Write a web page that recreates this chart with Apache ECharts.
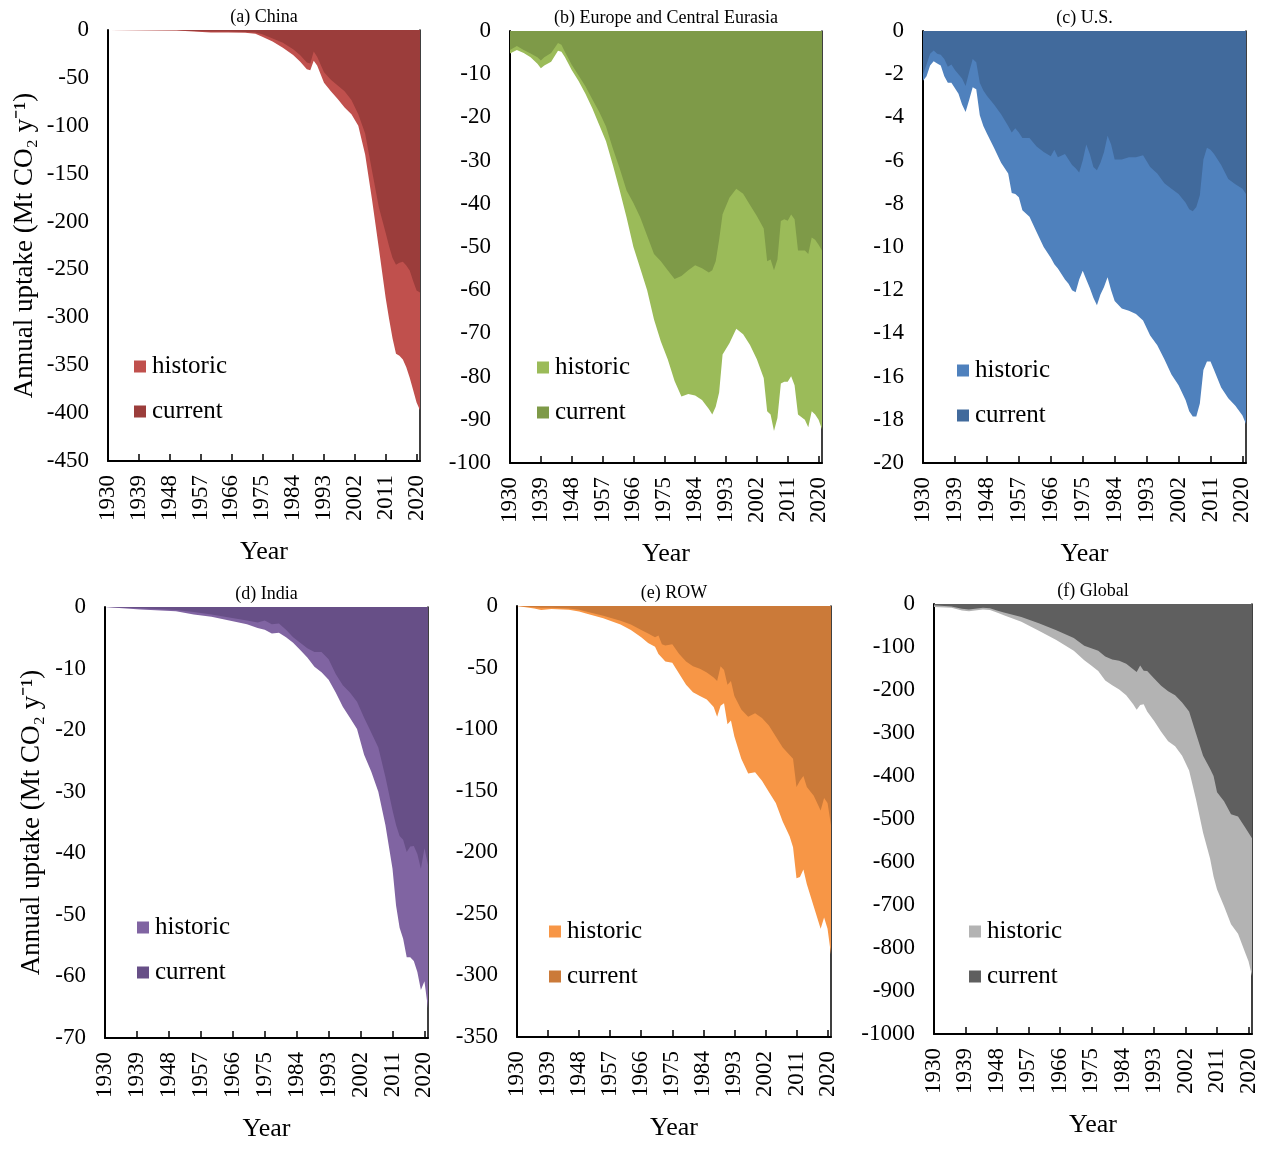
<!DOCTYPE html>
<html>
<head>
<meta charset="utf-8">
<script src="https://cdn.jsdelivr.net/npm/echarts@6/dist/echarts.min.js"></script>
<style>
html,body{margin:0;padding:0;background:#fff;}
#chart{width:1268px;height:1152px;}
</style>
</head>
<body>
<div id="chart"></div>
<script>
// ---- DATA ----
const yearTicks = [1930,1939,1948,1957,1966,1975,1984,1993,2002,2011,2020];

const cnYears    = [1930,1950,1955,1960,1965,1970,1973,1975,1978,1981,1984,1986,1988,1989,1990,1991,1993,1995,1997,1999,2001,2003,2005,2007,2009,2011,2012,2013,2014,2015,2016,2017,2018,2019,2020,2021];
const cnHistoric = [0,-0.5,-1.5,-2.5,-2.5,-3,-4,-7,-12,-18.5,-26,-33,-41,-42,-32,-37,-55,-64,-72,-81,-88,-100,-130,-177,-228,-280,-302,-322,-338,-340,-344,-352,-363,-376,-389,-397];
const cnCurrent  = [0,-0.3,-1,-1.5,-1.5,-2,-2.5,-4.5,-9,-13.3,-20,-26,-34,-35,-22.5,-28,-44,-52,-58,-64,-73,-88,-108,-147,-185,-212,-226,-238,-245,-243,-242,-246,-251,-262,-272,-274];

const euYears    = [1930,1932,1934,1936,1938,1939,1940,1942,1944,1945,1946,1948,1950,1952,1954,1956,1958,1960,1962,1964,1966,1968,1970,1972,1974,1976,1978,1980,1982,1984,1986,1988,1989,1990,1991,1992,1994,1996,1998,2000,2002,2004,2005,2006,2007,2008,2009,2010,2011,2012,2013,2014,2016,2017,2018,2019,2020,2021];
const euHistoric = [-5.2,-4.4,-5.1,-6.1,-7.6,-8.6,-8,-7.1,-4.6,-4.8,-6,-9,-11.6,-14.5,-17.9,-21.7,-25.5,-31,-36.9,-43.2,-50,-55,-60,-66.8,-71.9,-76,-81,-84.6,-84,-84.4,-85.4,-87.5,-88.8,-87,-83.7,-74.9,-72.3,-68.9,-70.2,-72.7,-76,-80.3,-88,-88.8,-92.6,-89.6,-81.6,-81.2,-81.2,-79.9,-82,-88.8,-90,-91.7,-88,-88.8,-90,-92.2];
const euCurrent  = [-4.4,-3.5,-4.4,-5.2,-6.1,-6.8,-6.1,-5.1,-2.8,-3.2,-4.8,-7.8,-10.3,-12.8,-15.8,-18.7,-22.1,-27.2,-31.8,-36.9,-39.8,-43.2,-47.4,-51.6,-53.3,-55.4,-57.4,-56.7,-55.4,-54.2,-54.9,-55.9,-55.4,-53.3,-48.3,-42.4,-38.6,-36.5,-37.7,-40.3,-42.8,-45.7,-53.3,-52.9,-55.4,-52.9,-44,-43.6,-43.9,-42.5,-43.6,-50.8,-50.8,-51.6,-47.8,-48.3,-49.5,-50.8];

const usYears    = [1930,1931,1932,1933,1934,1935,1936,1937,1938,1939,1940,1941,1942,1943,1944,1945,1946,1947,1948,
                    1950,1952,1954,1955,1956,1957,1958,
                    1960,1962,1964,1966,1967,1968,
                    1970,1971,1972,1973,1974,1975,1976,1977,1978,1979,
                    1980,1981,1982,1983,1984,
                    1986,1988,1990,1992,1994,1996,1998,
                    2000,2002,2004,2005,2006,2007,2008,2009,
                    2010,2011,2012,2014,2016,2018,2020,2021];
const usHistoric = [-2.3,-2.1,-1.6,-1.4,-1.5,-1.6,-2.1,-2.4,-2.4,-2.65,-2.9,-3.4,-3.75,-3.2,-2.6,-2.7,-3.9,-4.4,-4.75,
                    -5.4,-6.1,-6.6,-7.5,-7.55,-7.7,-8.3,
                    -8.6,-9.3,-10.0,-10.5,-10.8,-11,
                    -11.5,-11.7,-12.0,-12.1,-11.5,-11.1,-11.5,-11.9,-12.35,-12.7,
                    -12.2,-11.85,-11.4,-12.0,-12.5,
                    -12.85,-12.95,-13.1,-13.4,-14.1,-14.55,-15.2,
                    -15.9,-16.4,-17.1,-17.6,-17.85,-17.85,-17.25,-15.7,
                    -15.3,-15.3,-15.7,-16.5,-17.0,-17.35,-17.8,-18.2];
const usCurrent  = [-2.0,-1.55,-1.05,-0.9,-1.05,-1.1,-1.3,-1.65,-1.55,-1.8,-2.0,-2.2,-2.55,-1.9,-1.3,-1.45,-2.4,-2.75,-3.0,
                    -3.4,-3.85,-4.4,-4.7,-4.5,-4.7,-4.95,
                    -4.95,-5.35,-5.6,-5.8,-5.5,-5.85,
                    -5.7,-5.95,-6.2,-6.35,-6.55,-6.0,-5.25,-5.7,-6.3,-6.45,
                    -6.1,-5.6,-4.85,-5.25,-5.95,
                    -5.95,-5.85,-5.85,-5.75,-6.3,-6.6,-7.05,
                    -7.3,-7.55,-7.95,-8.25,-8.35,-8.15,-7.6,-5.95,
                    -5.4,-5.5,-5.7,-6.2,-6.85,-7.1,-7.3,-7.55];

const inYears    = [1930,1940,1950,1955,1960,1965,1970,1973,1975,1977,1979,1981,1983,1985,1987,1989,1991,1993,1995,1997,1999,2001,2003,2005,2007,2009,2011,2012,2013,2014,2015,2016,2017,2018,2019,2020,2021];
const inHistoric = [0,-0.4,-0.7,-1.2,-1.6,-2.2,-2.8,-3.4,-3.7,-4.3,-4.2,-4.9,-5.8,-7.0,-8.2,-9.7,-10.6,-11.8,-13.9,-16.2,-18.0,-19.8,-24.0,-26.7,-30,-35.4,-42.5,-48.5,-52.1,-53.9,-56.9,-56.9,-57.5,-59.3,-62.2,-60.8,-65.2];
const inCurrent  = [0,-0.2,-0.5,-0.8,-1.2,-1.7,-2.2,-2.5,-2.2,-2.8,-2.7,-3.7,-4.9,-5.8,-6.7,-7.3,-7.3,-8.5,-10.9,-12.7,-13.9,-15.4,-18.0,-20.4,-22.8,-27.6,-33,-35.4,-37.2,-37.8,-39.8,-38.9,-38.8,-40.1,-42.5,-39.2,-41.9];

const rowYears    = [1930,1935,1937,1940,1945,1948,1950,1955,1960,1963,1966,1968,1970,1971,1972,1973,1975,1977,1979,1981,1983,1985,1987,1988,1989,1990,1991,1992,1993,1995,1997,1999,2001,2003,2005,2007,2009,2010,2011,2012,2013,2014,2016,2018,2019,2020,2021];
const rowHistoric = [0,-2,-3.3,-2.4,-3,-4.5,-6,-10,-15,-19.4,-25.4,-30,-33,-39,-42,-45,-46,-55,-64,-70,-73,-76,-82,-90,-81,-79,-96,-93,-106,-124,-136,-135,-142,-151,-160,-175,-187,-196,-221,-220,-214,-226,-244,-262,-253,-262,-283];
const rowCurrent  = [0,-1,-1.5,-1.5,-2,-3,-4.5,-8,-12,-15,-19.4,-22.4,-25.4,-24,-31,-32,-31,-39,-45,-49,-51,-54,-58,-61,-49,-52,-64,-61,-73,-84,-90,-87,-91,-97,-106,-115,-121,-124,-147,-142,-138,-147,-154,-166,-156,-160,-178];

const glYears    = [1930,1935,1938,1940,1944,1946,1948,1950,1955,1960,1965,1970,1973,1975,1977,1979,1981,1983,1985,1987,1988,1989,1990,1991,1993,1995,1997,1999,2001,2003,2005,2007,2009,2010,2011,2013,2015,2017,2019,2020,2021];
const glHistoric = [-7,-9,-15,-17,-13,-14,-20,-26,-41,-62,-84,-109,-131,-143,-156,-178,-189,-199,-212,-233,-246,-235,-233,-250,-272,-297,-319,-331,-353,-387,-455,-532,-592,-634,-664,-703,-745,-767,-810,-831,-865];
const glCurrent  = [-3,-6,-11,-13,-9,-10,-15,-20,-30,-45,-61,-79,-97,-103,-109,-122,-129,-132,-139,-152,-158,-143,-155,-156,-173,-190,-203,-212,-229,-250,-302,-353,-383,-400,-438,-459,-489,-494,-519,-532,-545];

const seriesNames = ['historic','current'];
const yAxisName = 'Annual uptake (Mt CO\u2082 y\u207B\u00B9)';

// ---- LAYOUT / STYLE ----
const FONT = 'Liberation Serif, Times New Roman, serif';
const panels = [
  {key:'a', title:'(a) China', years:cnYears, hist:cnHistoric, cur:cnCurrent, colors:['#C0504D','#9B3D3B'],
   grid:{left:108, top:30, width:312, height:431}, yMin:-450, yInt:50, legend:{left:129, top:349}, yName:true, yNameGap:70},
  {key:'b', title:'(b) Europe and Central Eurasia', years:euYears, hist:euHistoric, cur:euCurrent, colors:['#9BBB59','#7E9A48'],
   grid:{left:510, top:31, width:312, height:432}, yMin:-100, yInt:10, legend:{left:532, top:350}},
  {key:'c', title:'(c) U.S.', years:usYears, hist:usHistoric, cur:usCurrent, colors:['#4F81BD','#416A9C'],
   grid:{left:923, top:31, width:323, height:432}, yMin:-20, yInt:2, legend:{left:952, top:353}},
  {key:'d', title:'(d) India', years:inYears, hist:inHistoric, cur:inCurrent, colors:['#8064A2','#674F87'],
   grid:{left:105, top:607, width:323, height:431}, yMin:-70, yInt:10, legend:{left:132, top:910}, yName:true, yNameGap:60},
  {key:'e', title:'(e) ROW', years:rowYears, hist:rowHistoric, cur:rowCurrent, colors:['#F79646','#CB7A39'],
   grid:{left:517, top:606, width:314, height:431}, yMin:-350, yInt:50, legend:{left:544, top:914}},
  {key:'f', title:'(f) Global', years:glYears, hist:glHistoric, cur:glCurrent, colors:['#B3B3B3','#5F5F5F'],
   grid:{left:934, top:604, width:318, height:430}, yMin:-1000, yInt:100, legend:{left:964, top:914}}
];

const option = {
  animation:false,
  backgroundColor:'#fff',
  grid:[], xAxis:[], yAxis:[], series:[], legend:[], graphic:[]
};

panels.forEach((p, i) => {
  option.grid.push(Object.assign({containLabel:false}, p.grid));
  option.xAxis.push({
    type:'value', gridIndex:i, min:1930, max:2021,
    axisLine:{show:true, onZero:false, lineStyle:{color:'#000', width:2}},
    axisTick:{show:true, inside:true, length:7, customValues:yearTicks, lineStyle:{color:'#000', width:1.5}},
    axisLabel:{rotate:90, customValues:yearTicks, fontSize:23, fontFamily:FONT, color:'#000', margin:14,
               formatter:(v) => String(v)},
    splitLine:{show:false},
    name:'Year', nameLocation:'middle', nameGap:78,
    nameTextStyle:{fontSize:26, fontFamily:FONT, color:'#000'}
  });
  option.yAxis.push({
    type:'value', gridIndex:i, min:p.yMin, max:0, interval:p.yInt,
    axisLine:{show:true, onZero:false, lineStyle:{color:'#000', width:2}},
    axisTick:{show:false},
    axisLabel:{fontSize:23, fontFamily:FONT, color:'#000', margin:19, formatter:(v) => String(v)},
    splitLine:{show:false},
    name: p.yName ? yAxisName : '', nameLocation:'middle', nameRotate:90, nameGap:p.yNameGap || 60,
    nameTextStyle:{fontSize:27, fontFamily:FONT, color:'#000'}
  });
  option.yAxis.push({
    type:'value', gridIndex:i, min:p.yMin, max:0, position:'right',
    axisLine:{show:true, onZero:false, lineStyle:{color:'#000', width:1.5}},
    axisTick:{show:false}, axisLabel:{show:false}, splitLine:{show:false}
  });
  const vals = [p.hist, p.cur];
  vals.forEach((arr, k) => {
    option.series.push({
      type:'line', name:p.key + '|' + seriesNames[k],
      xAxisIndex:i, yAxisIndex:2*i,
      data:p.years.map((y, j) => [y, arr[j]]),
      symbol:'none', showSymbol:false, silent:true,
      color:p.colors[k],
      itemStyle:{color:p.colors[k]},
      lineStyle:{width:0, color:p.colors[k]},
      areaStyle:{color:p.colors[k], opacity:1, origin:'end'},
      z:2 + k
    });
  });
  option.legend.push({
    left:p.legend.left, top:p.legend.top, orient:'vertical',
    icon:'rect', itemWidth:12, itemHeight:12, itemGap:20,
    selectedMode:false,
    data:seriesNames.map(n => p.key + '|' + n),
    formatter:(name) => name.split('|')[1],
    textStyle:{fontSize:25, fontFamily:FONT, color:'#000', lineHeight:24, padding:[0,0,0,1]}
  });
  option.graphic.push({
    type:'text',
    x:p.grid.left + p.grid.width/2, y:p.grid.top - 13,
    style:{text:p.title, font:'18px ' + FONT, fill:'#000', textAlign:'center', textVerticalAlign:'middle'}
  });
});

const chart = echarts.init(document.getElementById('chart'), null, {renderer:'canvas'});
chart.setOption(option);
</script>
</body>
</html>
